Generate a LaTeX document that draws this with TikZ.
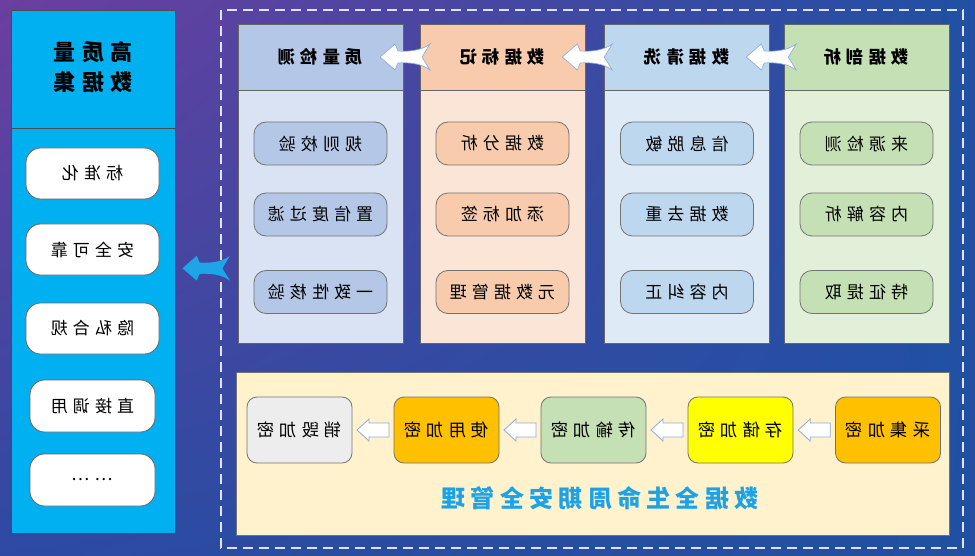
\documentclass[tikz,border=0pt]{standalone}
\usepackage{fontspec}
\usepackage{graphicx}
\usepackage{tikz}
\usetikzlibrary{calc,shadings}

\newfontfamily\cjk[LetterSpace=30]{Noto Sans CJK SC}
\newfontfamily\cjkt[LetterSpace=22]{Noto Sans CJK SC}
\newcommand{\mirr}[1]{\scalebox{-1}[1]{#1}}

\definecolor{bgpurple}{RGB}{108,62,160}
\definecolor{bgmid}{RGB}{45,74,162}
\definecolor{bgblue}{RGB}{33,80,163}
\definecolor{setcyan}{RGB}{0,176,240}
\definecolor{arrcyan}{RGB}{30,165,232}
\definecolor{titlecyan}{RGB}{30,162,230}
\definecolor{hdblue}{RGB}{180,199,231}
\definecolor{bdblue}{RGB}{218,227,243}
\definecolor{hdorange}{RGB}{248,203,173}
\definecolor{bdorange}{RGB}{251,229,214}
\definecolor{hdsky}{RGB}{189,215,238}
\definecolor{bdsky}{RGB}{222,235,247}
\definecolor{hdgreen}{RGB}{197,224,180}
\definecolor{bdgreen}{RGB}{226,240,217}
\definecolor{lifebg}{RGB}{255,242,204}
\definecolor{encgold}{RGB}{255,192,0}
\definecolor{encyellow}{RGB}{255,255,0}
\definecolor{encgray}{RGB}{237,237,237}
\definecolor{arrline}{RGB}{143,170,220}

\tikzset{
  colhead/.style={draw=black!60, line width=0.6pt, minimum width=123.75pt, minimum height=49.5pt, inner sep=0pt, font=\cjk\bfseries\fontsize{13}{16}\selectfont},
  colbody/.style={draw=black!60, line width=0.6pt, minimum width=123.75pt, minimum height=189.75pt, inner sep=0pt},
  stepitem/.style={draw=black!55, line width=0.6pt, rounded corners=9pt, minimum width=99.75pt, minimum height=32.25pt, inner sep=0pt, font=\cjk\fontsize{12.75}{15}\selectfont},
  setitem/.style={draw=black!60, fill=white, line width=0.6pt, rounded corners=11pt, minimum width=99.75pt, minimum height=38.25pt, inner sep=0pt, font=\cjk\fontsize{12.75}{15}\selectfont},
  encbox/.style={draw=black!55, line width=0.6pt, rounded corners=7.5pt, minimum width=78.75pt, minimum height=49.5pt, inner sep=0pt, font=\cjk\fontsize{13}{16}\selectfont},
  headarr/.style={draw=arrline, fill=white, line width=0.5pt},
  blkarrow/.style={draw=arrline, fill=white, line width=0.6pt},
  pics/swarr/.style={code={
    \path[pic actions] (-25,0) -- (-10,-13) -- (-7,-6) .. controls (5,-5) and (17,-7) .. (25,-13) -- (17,0) -- (25,13) .. controls (17,7) and (5,5) .. (-7,6) -- (-10,13) -- cycle;
  }},
  pics/blkarr/.style={code={
    \path[pic actions] (-16,0) -- (-4,-11) -- (-4,-7) -- (16,-7) -- (16,7) -- (-4,7) -- (-4,11) -- cycle;
  }},
}

\begin{document}
\begin{tikzpicture}[x=0.75pt,y=0.75pt,yscale=-1,xscale=1]
\useasboundingbox (0,0) rectangle (975,556);

%Background
\shade[upper left=bgpurple, upper right=bgblue, lower left=bgmid, lower right=bgblue] (0,0) rectangle (975,556);

%Left Panel
\node[draw=black!70, fill=setcyan, line width=0.6pt, minimum width=123pt, minimum height=392.25pt, inner sep=0pt] (hqset) at (93,271.5) {};
\draw[black!70, line width=0.6pt] (11,128) -- (175,128);
% Text Node
\node[font=\cjk\bfseries\fontsize{16.5}{22.5}\selectfont] (hqtitle) at (93,70) {\mirr{\begin{tabular}{@{}c@{}}高质量\\数据集\end{tabular}}};
\node[setitem] (std) at (92.5,173.5) {\mirr{标准化}};
\node[setitem] (safe) at (92.5,249.5) {\mirr{安全可靠}};
\node[setitem] (priv) at (92.5,328.5) {\mirr{隐私合规}};
\node[setitem, minimum width=93.75pt, minimum height=39pt] (call) at (92.5,406) {\mirr{直接调用}};
\node[setitem, minimum width=93.75pt, minimum height=39pt] (more) at (92.5,480) {\mirr{……}};

%Dashed Frame
\draw[white!85!bgblue, line width=1.1pt, dash pattern=on 7.5pt off 4.5pt] (221,10) rectangle (963,548);
\coordinate (frameW) at (221,265);

%Column: data profiling
\node[colbody, fill=bdgreen] (profB) at (866.5,216.5) {};
\node[colhead, fill=hdgreen] (prof) at (866.5,57) {\mirr{数据剖析}};
\node[stepitem, fill=hdgreen] (prof1) at (866.5,143.5) {\mirr{来源检测}};
\node[stepitem, fill=hdgreen] (prof2) at (866.5,214.5) {\mirr{内容解析}};
\node[stepitem, fill=hdgreen] (prof3) at (866.5,292) {\mirr{特征提取}};

%Column: data cleaning
\node[colbody, fill=bdsky] (cleanB) at (687,216.5) {};
\node[colhead, fill=hdsky] (clean) at (687,57) {\mirr{数据清洗}};
\node[stepitem, fill=hdsky] (clean1) at (687,143.5) {\mirr{信息脱敏}};
\node[stepitem, fill=hdsky] (clean2) at (687,214.5) {\mirr{数据去重}};
\node[stepitem, fill=hdsky] (clean3) at (687,292) {\mirr{内容纠正}};

%Column: data labelling
\node[colbody, fill=bdorange] (labelB) at (502.5,216.5) {};
\node[colhead, fill=hdorange] (label) at (502.5,57) {\mirr{数据标记}};
\node[stepitem, fill=hdorange] (label1) at (502.5,143.5) {\mirr{数据分析}};
\node[stepitem, fill=hdorange] (label2) at (502.5,214.5) {\mirr{添加标签}};
\node[stepitem, fill=hdorange] (label3) at (502.5,292) {\mirr{元数据管理}};

%Column: quality check
\node[colbody, fill=bdblue] (checkB) at (320.5,216.5) {};
\node[colhead, fill=hdblue] (check) at (320.5,57) {\mirr{质量检测}};
\node[stepitem, fill=hdblue] (check1) at (320.5,143.5) {\mirr{规则校验}};
\node[stepitem, fill=hdblue] (check2) at (320.5,214.5) {\mirr{置信度过滤}};
\node[stepitem, fill=hdblue] (check3) at (320.5,292) {\mirr{一致性核验}};

%Header Arrows
\pic[headarr] at ($(prof.west)!0.9!(clean.east)$) {swarr};
\pic[headarr] at ($(clean.west)!0.9!(label.east)$) {swarr};
\pic[headarr] at ($(label.west)!0.9!(check.east)$) {swarr};

%Arrow to dataset
\pic[fill=arrcyan, scale=0.95] at ($(hqset.east)!0.5!(frameW)+(8,0)$) {swarr};

%Lifecycle Panel
\draw[draw=black!55, fill=lifebg, line width=0.6pt] (236,372) rectangle (949,535);
\node[encbox, fill=encgold] (enc1) at (888,430) {\mirr{采集加密}};
\node[encbox, fill=encyellow] (enc2) at (740.5,430) {\mirr{存储加密}};
\node[encbox, fill=hdgreen] (enc3) at (593.5,430) {\mirr{传输加密}};
\node[encbox, fill=encgold] (enc4) at (446.5,430) {\mirr{使用加密}};
\node[encbox, fill=encgray] (enc5) at (299.5,430) {\mirr{销毁加密}};

%Block Arrows
\pic[blkarrow] at ($(enc1.west)!0.5!(enc2.east)$) {blkarr};
\pic[blkarrow] at ($(enc2.west)!0.5!(enc3.east)$) {blkarr};
\pic[blkarrow] at ($(enc3.west)!0.5!(enc4.east)$) {blkarr};
\pic[blkarrow] at ($(enc4.west)!0.5!(enc5.east)$) {blkarr};

% Text Node
\node[font=\cjkt\bfseries\fontsize{18}{20}\selectfont, text=titlecyan] (lifetitle) at (600,498) {\mirr{数据全生命周期安全管理}};

\end{tikzpicture}
\end{document}
